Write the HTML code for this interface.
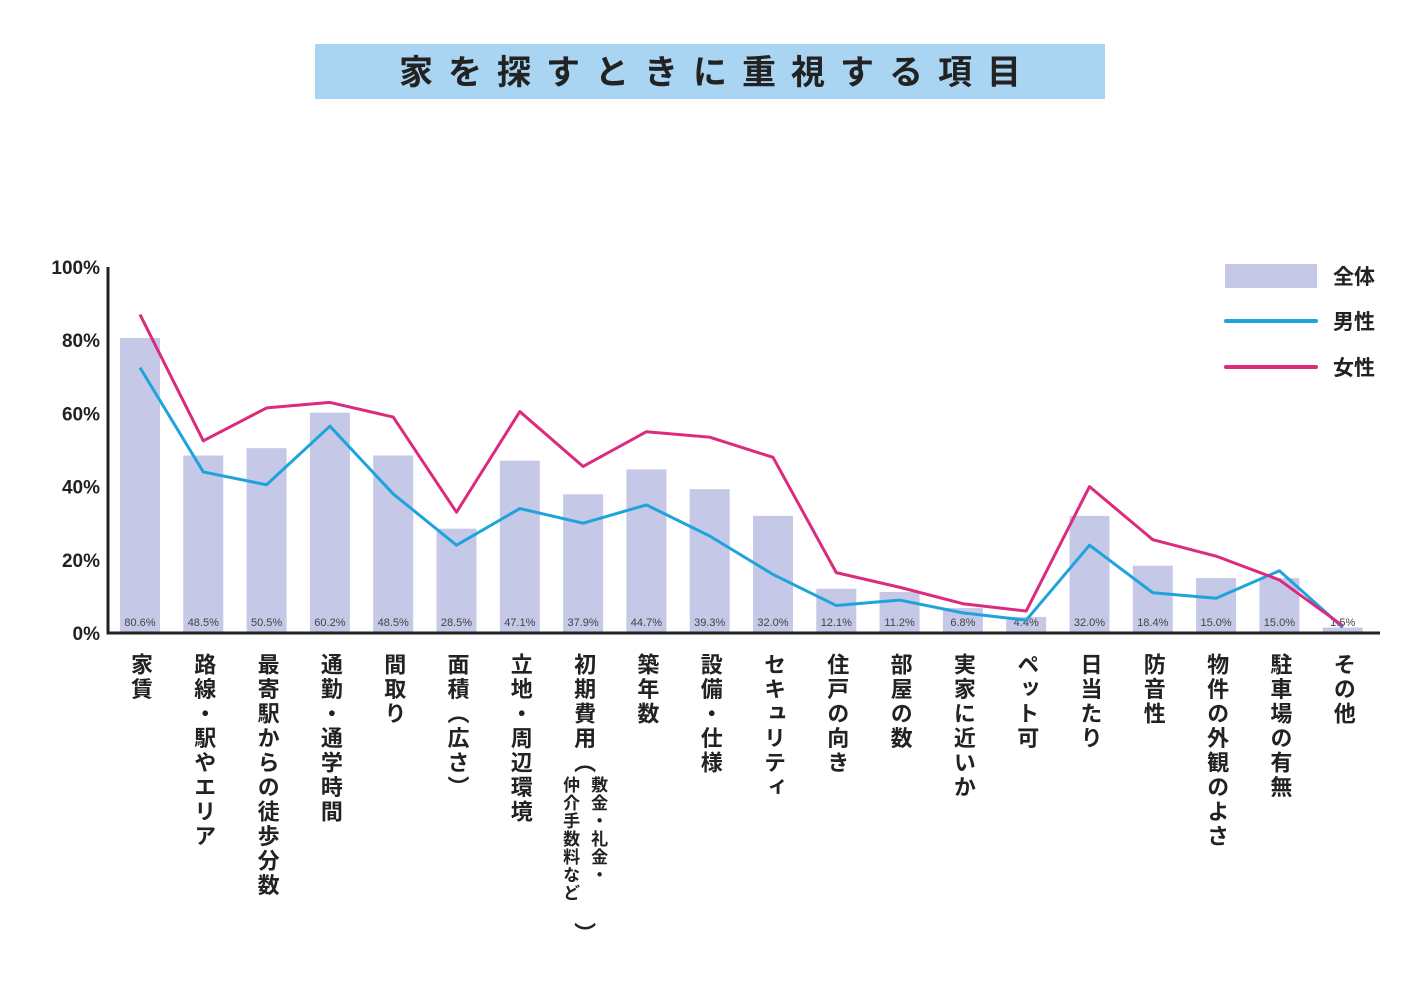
<!DOCTYPE html>
<html><head><meta charset="utf-8">
<style>
body{margin:0;width:1420px;height:984px;background:#fff;position:relative;overflow:hidden;font-family:"Liberation Sans","Noto Sans CJK JP",sans-serif;}
#title{position:absolute;left:315px;top:44px;width:790px;height:55px;background:#a9d4f2;text-align:center;line-height:58px;font-size:34px;font-weight:bold;letter-spacing:15px;text-indent:15px;color:#222;}
.xl{position:absolute;writing-mode:vertical-rl;font-size:22px;font-weight:bold;letter-spacing:2.5px;color:#222;line-height:24px;}
.xs{position:absolute;writing-mode:vertical-rl;font-size:17px;font-weight:bold;letter-spacing:1px;color:#222;line-height:26px;}
svg{position:absolute;left:0;top:0;}
</style></head><body>
<div id="title">家を探すときに重視する項目</div>
<svg id="chart" width="1420" height="984"></svg>
<div id="labels"></div>
<script>
const categories=["家賃","路線・駅やエリア","最寄駅からの徒歩分数","通勤・通学時間","間取り","面積（広さ）","立地・周辺環境","初期費用（","築年数","設備・仕様","セキュリティ","住戸の向き","部屋の数","実家に近いか","ペット可","日当たり","防音性","物件の外観のよさ","駐車場の有無","その他"];
const totalValues=[80.6,48.5,50.5,60.2,48.5,28.5,47.1,37.9,44.7,39.3,32.0,12.1,11.2,6.8,4.4,32.0,18.4,15.0,15.0,1.5];
const maleValues=[72.5,44,40.5,56.5,38,24,34,30,35,26.5,16,7.5,9,5.5,3.5,24,11,9.5,17,1.5];
const femaleValues=[87,52.5,61.5,63,59,33,60.5,45.5,55,53.5,48,16.5,12.5,8,6,40,25.5,21,14.5,2];
const yTicks=[0,20,40,60,80,100];
const NS="http://www.w3.org/2000/svg";
const svg=document.getElementById('chart');
const y0=633,yTop=267,x0=108,step=63.3,firstX=140;
const yS=v=>y0-(y0-yTop)*v/100;
const xS=i=>firstX+i*step;
function mk(t,a){const e=document.createElementNS(NS,t);for(const k in a)e.setAttribute(k,a[k]);svg.appendChild(e);return e;}
totalValues.forEach((v,i)=>{
 const r=mk('rect',{x:xS(i)-20,y:yS(v),width:40,height:y0-yS(v),fill:'#c5c8e6'});
 
 
 const t=mk('text',{x:xS(i),y:626,'text-anchor':'middle','font-size':11,fill:'#444','font-family':'Liberation Sans, sans-serif'});
 t.textContent=v.toFixed(1)+'%';
 
 
});
function line(vals,color,name){
 const p=mk('polyline',{points:vals.map((v,i)=>xS(i)+','+yS(v)).join(' '),fill:'none',stroke:color,'stroke-width':3,'stroke-linejoin':'round'});
 
 
}
line(maleValues,'#1ea3dc','line-male');
line(femaleValues,'#dc2a7e','line-female');
const ax=mk('path',{d:`M${x0} ${yTop}V${y0}H1380`,stroke:'#222','stroke-width':3,fill:'none'});


yTicks.forEach(v=>{
 const t=mk('text',{x:100,y:yS(v)+7,'text-anchor':'end','font-size':19,'font-weight':'bold',fill:'#222','font-family':'Liberation Sans, sans-serif'});
 t.textContent=v+'%';
 
 
});
const lg=[['全体','rect','#c5c8e6',276],['男性','line','#1ea3dc',321],['女性','line','#dc2a7e',367]];
lg.forEach(([n,k,c,y])=>{
 let m=k==='rect'?mk('rect',{x:1225,y:y-12,width:92,height:24,fill:c}):mk('line',{x1:1226,x2:1316,y1:y,y2:y,stroke:c,'stroke-width':4,'stroke-linecap':'round'});
 
 
 const t=mk('text',{x:1333,y:y+8,'font-size':21,'font-weight':'bold',fill:'#222','font-family':'Liberation Sans, Noto Sans CJK JP, sans-serif'});
 t.textContent=n;
 
 
});
const L=document.getElementById('labels');
categories.forEach((c,i)=>{
 const d=document.createElement('div');
 d.className='xl';
 
 
 d.style.left=(xS(i)-12)+'px';d.style.top='653px';
 d.textContent=c;
 L.appendChild(d);
});
const s=document.createElement('div');
s.className='xs';


s.style.left=(xS(7)-28)+'px';s.style.top='776px';s.style.lineHeight='28px';
s.innerHTML='敷金・礼金・<br>仲介手数料など';
L.appendChild(s);
const p=document.createElement('div');
p.className='xl';


p.style.left=(xS(7)-12)+'px';p.style.top='922px';
p.textContent='）';
L.appendChild(p);
</script>
</body></html>
